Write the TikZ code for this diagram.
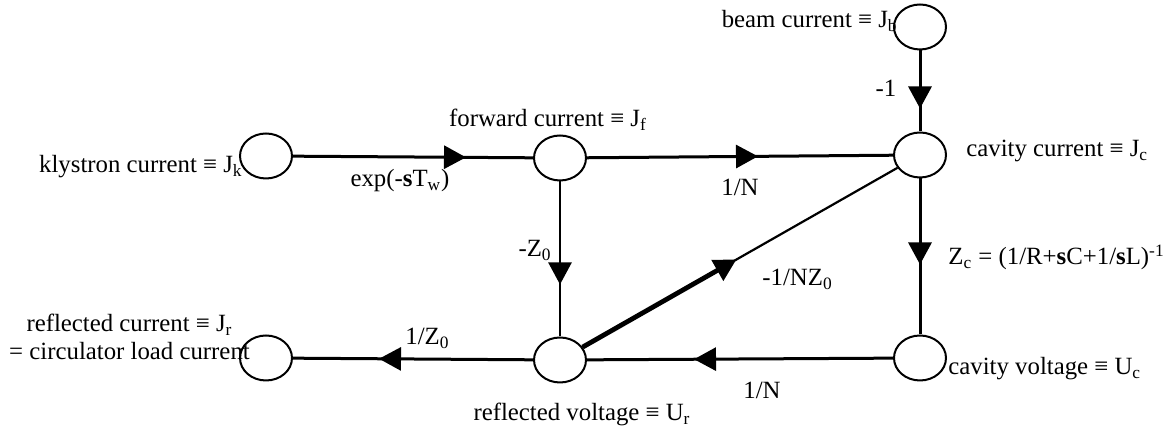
\documentclass[tikz,border=0pt]{standalone}
\usepackage{fontspec}
\setmainfont{Liberation Serif}
\usetikzlibrary{shapes.geometric,arrows.meta,decorations.markings,calc}
\newcommand{\sbs}[1]{\textsubscript{#1}}
\newcommand{\sps}[1]{\textsuperscript{#1}}
\begin{document}
\begin{tikzpicture}[x=0.5pt,y=-0.5pt,
  sig/.style={ellipse,draw,line width=1pt,minimum width=26pt,minimum height=22.5pt,inner sep=0pt},
  lbl/.style={font=\fontsize{12.4}{14}\selectfont,inner sep=0pt},
  conn/.style={line width=1.5pt},
  midarrow/.style={postaction={decorate},decoration={markings,mark=at position #1 with {\arrow{Triangle[length=11pt,width=11.5pt]}}}}
]
\useasboundingbox (0,0) rectangle (1164,431);
% signal nodes
\node[sig] (K) at (266,156) {};
\node[sig] (F) at (560,158) {};
\node[sig] (B) at (920,27) {};
\node[sig] (C) at (920,155) {};
\node[sig] (J) at (266,358) {};
\node[sig] (R) at (560,360) {};
\node[sig] (V) at (920,358) {};
% connectors
\draw[conn,midarrow=86.5pt] (K) -- (F);
\draw[conn,midarrow=85.5pt] (F) -- (C);
\draw[conn,midarrow=29pt] (B) -- (C);
\draw[conn,midarrow=43pt] (C) -- (V);
\draw[line width=1.2pt,midarrow=51.5pt] (F) -- (R);
\draw[conn,midarrow=99.5pt] (V) -- (R);
\draw[conn,midarrow=77pt] (R) -- (J);
\coordinate (dtip) at ($(R)!0.49!(C)$);
\draw[line width=1.1pt] (R) -- (C);
\draw[line width=2.4pt,-{Triangle[length=11pt,width=11.5pt]}] (R) -- (dtip);
% labels
\node[lbl,anchor=base east] (lb) at (898,28) {beam current ≡ J\sbs{b}};
\node[lbl,anchor=base] (lm1) at (886,97) {-1};
\node[lbl,anchor=base east] (lk) at (243,173) {klystron current ≡ J\sbs{k}};
\node[lbl,anchor=base] (lexp) at (400,187) {exp(-\textbf{s}T\sbs{w})};
\node[lbl,anchor=base] (lf) at (548,127) {forward current ≡ J\sbs{f}};
\node[lbl,anchor=base] (ln1) at (740,196) {1/N};
\node[lbl,anchor=base west] (lc) at (966,157) {cavity current ≡ J\sbs{c}};
\node[lbl,anchor=base west] (lz) at (948,265) {Z\sbs{c} = (1/R+\textbf{s}C+1/\textbf{s}L)\sps{-1}};
\node[lbl,anchor=base east] (lz0) at (552,257) {-Z\sbs{0}};
\node[lbl,anchor=base west] (lnz) at (762,286) {-1/NZ\sbs{0}};
\node[lbl,anchor=base west] (lrz) at (405,345) {1/Z\sbs{0}};
\node[lbl,anchor=base] (lr) at (582,421) {reflected voltage ≡ U\sbs{r}};
\node[lbl,anchor=base] (ln2) at (762,399) {1/N};
\node[lbl,anchor=base west] (lv) at (948,375) {cavity voltage ≡ U\sbs{c}};
\node[lbl,align=center,anchor=base] (lj) at (129.5,360) {reflected current ≡ J\sbs{r}\\= circulator load current};
\end{tikzpicture}
\end{document}
